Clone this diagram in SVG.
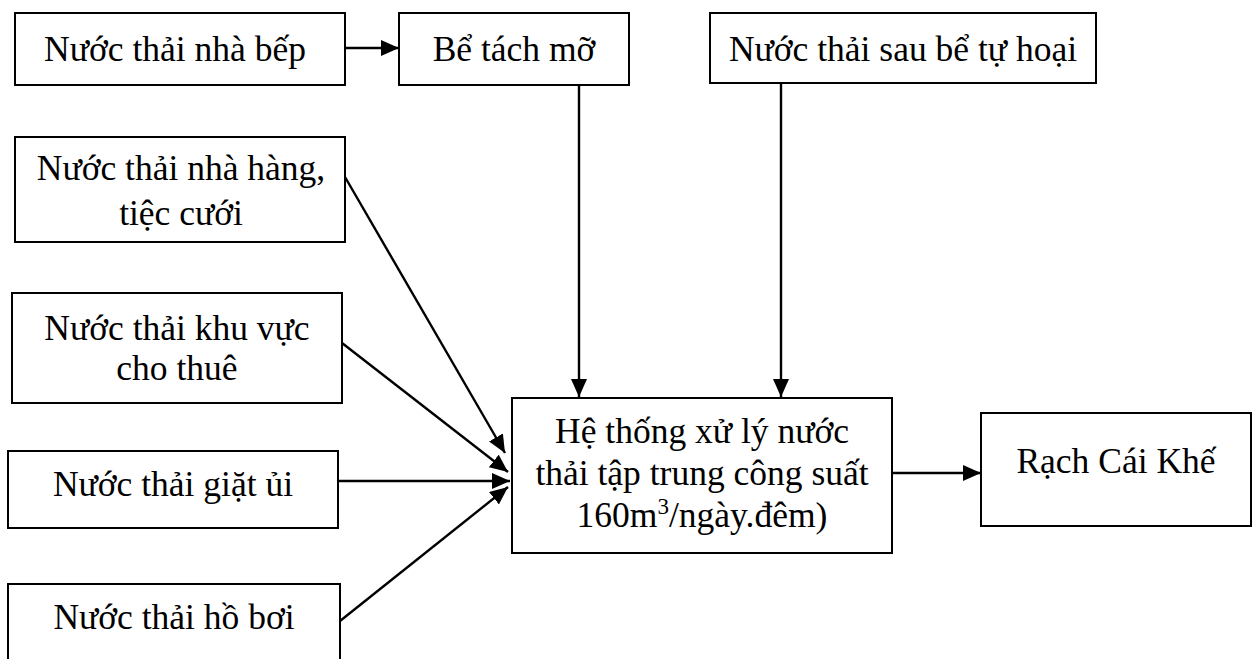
<svg xmlns="http://www.w3.org/2000/svg" width="1256" height="659" viewBox="0 0 1256 659">
<style>
  .box { fill: #ffffff; stroke: #000000; stroke-width: 2; }
  .lbl { font-family: "Liberation Serif", "Times New Roman", serif; font-size: 35.5px; fill: #000000; text-anchor: middle; }
  .con { stroke: #000000; stroke-width: 2.4; fill: none; marker-end: url(#arrow); }
</style>
<defs>
  <marker id="arrow" markerUnits="userSpaceOnUse" markerWidth="20" markerHeight="16" refX="18" refY="8" orient="auto">
    <path d="M0,0 L18,8 L0,16 z" fill="#000000"/>
  </marker>
</defs>
<rect x="0" y="0" width="1256" height="659" fill="#ffffff"/>

<g id="connectors">
  <line class="con" x1="345" y1="48" x2="399" y2="48"/>
  <line class="con" x1="579" y1="86" x2="579" y2="397"/>
  <line class="con" x1="781" y1="84" x2="781" y2="397"/>
  <line class="con" x1="345" y1="177" x2="505" y2="453"/>
  <line class="con" x1="342" y1="343" x2="508" y2="472"/>
  <line class="con" x1="338" y1="481" x2="510" y2="481"/>
  <line class="con" x1="340" y1="621" x2="508" y2="487"/>
  <line class="con" x1="892" y1="473" x2="981" y2="473"/>
</g>

<g id="node-bep">
  <rect class="box" x="15" y="13" width="330" height="72"/>
  <text class="lbl" x="175" y="61">Nước thải nhà bếp</text>
</g>
<g id="node-betachmo">
  <rect class="box" x="399" y="13" width="230" height="72"/>
  <text class="lbl" x="514" y="61">Bể tách mỡ</text>
</g>
<g id="node-tuhoai">
  <rect class="box" x="710" y="13" width="386" height="70"/>
  <text class="lbl" x="903" y="61">Nước thải sau bể tự hoại</text>
</g>
<g id="node-nhahang">
  <rect class="box" x="15" y="137" width="330" height="105"/>
  <text class="lbl" x="181" y="180">Nước thải nhà hàng,</text>
  <text class="lbl" x="181" y="225">tiệc cưới</text>
</g>
<g id="node-chothue">
  <rect class="box" x="12" y="293" width="330" height="110"/>
  <text class="lbl" x="177" y="340">Nước thải khu vực</text>
  <text class="lbl" x="177" y="380">cho thuê</text>
</g>
<g id="node-giatui">
  <rect class="box" x="8" y="451" width="330" height="77"/>
  <text class="lbl" x="173" y="496">Nước thải giặt ủi</text>
</g>
<g id="node-hoboi">
  <rect class="box" x="8" y="584" width="332" height="90"/>
  <text class="lbl" x="174" y="629">Nước thải hồ bơi</text>
</g>
<g id="node-xuly">
  <rect class="box" x="512" y="398" width="380" height="155"/>
  <text class="lbl" x="702" y="443">Hệ thống xử lý nước</text>
  <text class="lbl" x="702" y="485">thải tập trung công suất</text>
  <text class="lbl" x="702" y="527">160m<tspan font-size="23" dy="-13">3</tspan><tspan dy="13">/ngày.đêm)</tspan></text>
</g>
<g id="node-rach">
  <rect class="box" x="981" y="413" width="270" height="113"/>
  <text class="lbl" x="1116" y="473">Rạch Cái Khế</text>
</g>
</svg>
